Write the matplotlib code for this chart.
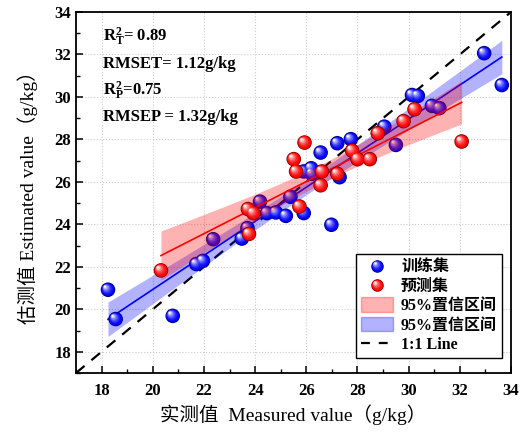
import numpy as np
import matplotlib
matplotlib.use("Agg")
import matplotlib.pyplot as plt
from matplotlib.colors import to_rgb
from matplotlib.transforms import ScaledTranslation
from matplotlib.legend_handler import HandlerBase
from matplotlib.lines import Line2D
from matplotlib.patches import Patch

plt.rcParams['font.family'] = ['Liberation Serif', 'Noto Sans CJK SC']
plt.rcParams['font.weight'] = 'bold'
plt.rcParams['mathtext.fontset'] = 'custom'
plt.rcParams['mathtext.rm'] = 'Liberation Serif:bold'
plt.rcParams['mathtext.bf'] = 'Liberation Serif:bold'
plt.rcParams['mathtext.it'] = 'Liberation Serif:bold'

# training set (measured, estimated)
train_x = [18.25, 18.55, 20.78, 21.70, 21.96, 22.36, 23.48, 23.70, 24.19, 24.46,
           24.81, 25.20, 25.38, 25.90, 26.98, 26.56, 27.21, 27.74, 25.90, 26.19,
           26.22, 27.30, 29.05, 29.50, 30.13, 30.36, 30.91, 31.20, 32.95, 33.64]
train_y = [20.92, 19.54, 19.69, 22.13, 22.28, 23.30, 23.33, 23.82, 25.07, 24.53,
           24.56, 24.40, 25.30, 24.53, 23.98, 27.38, 27.82, 28.01, 26.49, 26.64,
           26.38, 26.22, 28.60, 27.74, 30.09, 30.05, 29.58, 29.47, 32.06, 30.56]

# prediction set
test_x = [20.32, 23.76, 23.72, 23.93, 25.73, 26.56, 25.93, 25.51, 25.60, 26.61,
          27.21, 27.79, 28.00, 28.48, 28.79, 29.80, 30.23, 32.07]
test_y = [21.83, 23.55, 24.72, 24.53, 24.84, 25.84, 27.85, 27.07, 26.49, 26.49,
          26.38, 27.47, 27.07, 27.07, 28.29, 28.86, 29.42, 27.90]

stats_text = [r'$\mathbf{R_T^2}$= 0.89', 'RMSET= 1.12g/kg',
              r'$\mathbf{R_P^2}$=0.75', 'RMSEP = 1.32g/kg']
legend_labels = ['训练集', '预测集', '95%置信区间', '95%置信区间', '1:1 Line']

fig = plt.figure(figsize=(5.3, 4.34), dpi=100)
ax = fig.add_axes([0.1434, 0.1406, 0.8208, 0.8318])


def ball_layers(color):
    # dark rim, then shrinking lighter discs shifted up-left for a 3D ball look
    base = np.array(to_rgb(color))
    white = np.ones(3)
    out = [(1.0, 0.0, base * 0.45)]
    n = 7
    for i in range(n):
        f = i / (n - 1)
        scale = 0.9 - 0.75 * f
        col = base * (1 - f ** 1.6) + white * f ** 1.6
        out.append((scale, 0.42 * f, col))
    return out


def draw_balls(ax, x, y, color, size, z):
    r = np.sqrt(size) / 2.0
    for scale, off, col in ball_layers(color):
        tr = ax.transData + ScaledTranslation(-off * r / 72, off * r / 72, fig.dpi_scale_trans)
        ax.scatter(x, y, s=size * scale ** 2, color=col, edgecolors='none',
                   transform=tr, zorder=z)
        z += 0.001


class HandlerBall(HandlerBase):
    def create_artists(self, legend, orig_handle, xdescent, ydescent,
                       width, height, fontsize, trans):
        cx = width / 2 - xdescent
        cy = height / 2 - ydescent
        ms = 9
        arts = []
        for scale, off, col in ball_layers(orig_handle.get_color()):
            d = off * ms / 2
            arts.append(Line2D([cx - d], [cy + d], marker='o', ms=ms * scale,
                               color=col, mec='none', ls='none', transform=trans))
        return arts


def fit_band(x, y, color, z):
    x = np.asarray(x)
    y = np.asarray(y)
    n = len(x)
    b, a = np.polyfit(x, y, 1)
    xs = np.linspace(x.min(), x.max(), 100)
    yfit = a + b * xs
    resid = y - (a + b * x)
    s = np.sqrt(np.sum(resid ** 2) / (n - 2))
    se = s * np.sqrt(1 / n + (xs - x.mean()) ** 2 / np.sum((x - x.mean()) ** 2))
    t = 2.05
    ax.fill_between(xs, yfit - t * se, yfit + t * se, color=color, alpha=0.3,
                    lw=0, zorder=z)
    ax.plot(xs, yfit, color=color, lw=1.2, zorder=z + 0.5)


ax.grid(True, color='#cccccc', ls=':', lw=0.8, zorder=0)
ax.plot([17, 34], [17, 34], color='black', ls=(0, (5, 4)), lw=1.6, zorder=1)

fit_band(train_x, train_y, 'blue', 2)
draw_balls(ax, train_x, train_y, 'blue', 110, 3)
fit_band(test_x, test_y, 'red', 4)
draw_balls(ax, test_x, test_y, 'red', 110, 5)

ax.set_xlim(17, 34)
ax.set_ylim(17, 34)
ax.set_xticks(np.arange(18, 35, 2))
ax.set_yticks(np.arange(18, 35, 2))
ax.set_xticks(np.arange(17, 35, 1), minor=True)
ax.set_yticks(np.arange(17, 35, 1), minor=True)
ax.tick_params(which='major', direction='in', length=5, width=1.1, labelsize=12,
               top=False, right=False)
ax.tick_params(axis='x', which='major', pad=7)
ax.tick_params(which='minor', direction='in', length=3, width=1.0, top=False, right=False)
for sp in ax.spines.values():
    sp.set_linewidth(1.3)

ax.set_xlabel('实测值  Measured value（g/kg）', fontsize=14, labelpad=4)
ax.set_ylabel('估测值 Estimated value（g/kg）', fontsize=14, labelpad=12)

ys = [0.93, 0.855, 0.78, 0.71]
for txt, yy in zip(stats_text, ys):
    ax.text(0.062, yy, txt, transform=ax.transAxes, fontsize=12, fontweight='bold',
            va='center', ha='left')

h_train = Line2D([], [], color='blue')
h_test = Line2D([], [], color='red')
h_rb = Patch(facecolor=(1, 0, 0, 0.3), edgecolor=(1, 0, 0, 0.3))
h_bb = Patch(facecolor=(0, 0, 1, 0.3), edgecolor=(0, 0, 1, 0.3))
h_line = Line2D([], [], color='black', ls=(0, (4, 4)), lw=1.6)
leg = ax.legend([h_train, h_test, h_rb, h_bb, h_line], legend_labels,
                handler_map={h_train: HandlerBall(), h_test: HandlerBall()},
                loc='lower right', bbox_to_anchor=(0.979, 0.042), borderaxespad=0,
                fontsize=11.5, frameon=True, fancybox=False, edgecolor='black',
                framealpha=1, handlelength=2.0, handleheight=1.0, labelspacing=0.18,
                borderpad=0.3, handletextpad=0.5)
leg.get_frame().set_linewidth(1.0)

fig.savefig('out.png', dpi=100)
